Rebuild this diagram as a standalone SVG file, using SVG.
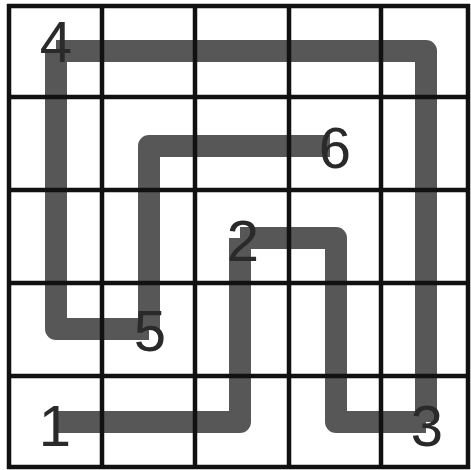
<svg xmlns="http://www.w3.org/2000/svg" width="471" height="470" viewBox="0 0 471 470">
<style>
.grid line{stroke:#111;stroke-width:4.5}
.conn path{fill:none;stroke:#575757;stroke-width:22;stroke-linejoin:round;stroke-linecap:butt}
.lbl{font-family:"Liberation Sans",Arial,sans-serif;font-size:58px;fill:#2a2a2a;text-anchor:middle}
</style>
<rect width="471" height="470" fill="#fff"/>
<g class="conn" id="connectors">
<path d="M55,422 H240 V238"/>
<path d="M240,238 H336 V422 H426"/>
<path d="M426,422 V51 H56"/>
<path d="M56,51 V329 H149"/>
<path d="M149,329 V146 H330"/>
</g>
<g class="grid" id="grid">
<line x1="9" y1="4" x2="9" y2="469"/>
<line x1="102" y1="4" x2="102" y2="469"/>
<line x1="195" y1="4" x2="195" y2="469"/>
<line x1="289" y1="4" x2="289" y2="469"/>
<line x1="381" y1="4" x2="381" y2="469"/>
<line x1="468" y1="4" x2="468" y2="469"/>
<line x1="7" y1="6" x2="470" y2="6"/>
<line x1="7" y1="97" x2="470" y2="97"/>
<line x1="7" y1="190" x2="470" y2="190"/>
<line x1="7" y1="283" x2="470" y2="283"/>
<line x1="7" y1="376" x2="470" y2="376"/>
<line x1="7" y1="467" x2="470" y2="467"/>
</g>
<g id="n1"><text class="lbl" x="55" y="446">1</text></g>
<g id="n2"><text class="lbl" x="243" y="261">2</text></g>
<g id="n3"><text class="lbl" x="427" y="446">3</text></g>
<g id="n4"><text class="lbl" x="56" y="62">4</text></g>
<g id="n5"><text class="lbl" x="150" y="351">5</text></g>
<g id="n6"><text class="lbl" x="335" y="168">6</text></g>
</svg>
